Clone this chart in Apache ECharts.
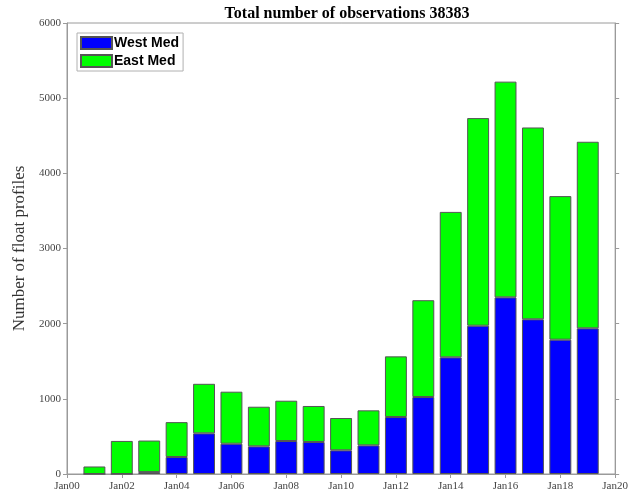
<!DOCTYPE html>
<html>
<head>
<meta charset="utf-8">
<script src="https://cdn.jsdelivr.net/npm/echarts@6/dist/echarts.min.js"></script>
<style>
  html, body { margin: 0; padding: 0; background: #fff; }
  #chart { width: 631px; height: 499px; }
</style>
</head>
<body>
<div id="chart"></div>
<script>
// Yearly float profile counts, split by basin
const years = [2001, 2002, 2003, 2004, 2005, 2006, 2007, 2008, 2009, 2010,
               2011, 2012, 2013, 2014, 2015, 2016, 2017, 2018, 2019];
const westMed = [0, 0, 25, 226, 541, 403, 368, 439, 426, 315,
                 381, 758, 1024, 1552, 1973, 2350, 2058, 1787, 1938];
const eastMed = [100, 440, 420, 464, 659, 692, 527, 536, 479, 430,
                 466, 807, 1288, 1935, 2762, 2870, 2552, 1910, 2482];
// x axis runs Jan 2000 .. Jan 2020, one slot per January
const axisYears = [2000, 2001, 2002, 2003, 2004, 2005, 2006, 2007, 2008, 2009, 2010,
                   2011, 2012, 2013, 2014, 2015, 2016, 2017, 2018, 2019, 2020];
const yTicks = [0, 1000, 2000, 3000, 4000, 5000, 6000];

const total = westMed.reduce((a, b) => a + b, 0) + eastMed.reduce((a, b) => a + b, 0);

const serif = 'Liberation Serif';
const axisGray = '#9a9a9a';

const onAxis = values => axisYears.map(y => {
  const i = years.indexOf(y);
  return i < 0 ? '-' : values[i];
});

const chart = echarts.init(document.getElementById('chart'));

const xAxisBase = {
  type: 'category',
  data: axisYears.map(String),
  boundaryGap: false,
  axisLine: { show: true, lineStyle: { color: axisGray } },
  axisTick: { show: true, inside: false, length: 4, interval: 1, lineStyle: { color: axisGray } },
  splitLine: { show: false }
};
const yAxisBase = {
  type: 'value',
  min: yTicks[0], max: yTicks[yTicks.length - 1], interval: 1000,
  axisLine: { show: true, lineStyle: { color: axisGray } },
  axisTick: { show: true, inside: false, length: 4, lineStyle: { color: axisGray } },
  splitLine: { show: false }
};

chart.setOption({
  animation: false,
  backgroundColor: '#fff',
  title: {
    text: 'Total number of observations ' + total,
    left: 342, top: 1,
    textAlign: 'center',
    textStyle: { fontFamily: serif, fontWeight: 'bold', fontSize: 16, color: '#000' }
  },
  legend: {
    orient: 'vertical',
    left: 77, top: 33,
    itemWidth: 31, itemHeight: 12, itemGap: 4,
    padding: [3, 4, 3, 3],
    borderColor: '#b0b0b0', borderWidth: 1,
    icon: 'rect',
    textStyle: { fontFamily: 'Liberation Sans', fontWeight: 'bold', fontSize: 14, color: '#000', padding: [0, 0, 0, -3] },
    data: ['West Med', 'East Med']
  },
  grid: {
    left: 67, right: 13, top: 23, bottom: 25, containLabel: false,
    show: true, borderColor: axisGray, borderWidth: 1, backgroundColor: 'transparent'
  },
  xAxis: [Object.assign({}, xAxisBase, {
    position: 'bottom',
    axisLabel: {
      interval: 1,
      formatter: v => 'Jan' + String(v).slice(2),
      fontFamily: serif, fontSize: 11, color: '#444', margin: 7
    }
  }), Object.assign({}, xAxisBase, {
    position: 'top',
    axisLabel: { show: false }
  })],
  yAxis: [Object.assign({}, yAxisBase, {
    position: 'left',
    name: 'Number of float profiles',
    nameLocation: 'middle', nameGap: 37, nameRotate: 90,
    nameTextStyle: { fontFamily: serif, fontSize: 17, color: '#333' },
    axisLabel: { formatter: v => String(v), fontFamily: serif, fontSize: 11, color: '#444', margin: 6 }
  }), Object.assign({}, yAxisBase, {
    position: 'right',
    axisLabel: { show: false }
  })],
  series: [{
    name: 'West Med', type: 'bar', stack: 'obs',
    xAxisIndex: 0, yAxisIndex: 0,
    barWidth: '80%',
    itemStyle: { color: '#0000ff', borderColor: '#555', borderWidth: 1 },
    data: onAxis(westMed)
  }, {
    name: 'East Med', type: 'bar', stack: 'obs',
    xAxisIndex: 0, yAxisIndex: 0,
    barWidth: '80%',
    itemStyle: { color: '#00ff00', borderColor: '#555', borderWidth: 1 },
    data: onAxis(eastMed)
  }]
});
</script>
</body>
</html>
